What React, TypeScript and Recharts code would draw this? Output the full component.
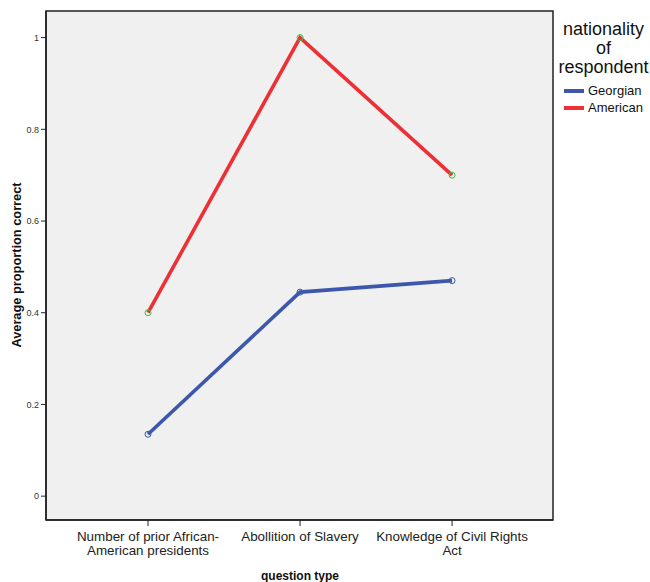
import { LineChart, Line, XAxis, YAxis, CartesianGrid, ReferenceArea } from "recharts";

// ── Data ──
const questionTypes = [
  ["Number of prior African-", "American presidents"],
  ["Abollition of Slavery"],
  ["Knowledge of Civil Rights", "Act"],
];
const questionIndex = [1, 2, 3];
const georgian = [0.135, 0.445, 0.47];
const american = [0.4, 1.0, 0.7];
const yTicks = [0, 0.2, 0.4, 0.6, 0.8, 1];
const seriesNames = ["Georgian", "American"];

const data = questionIndex.map((q, i) => ({
  q,
  Georgian: georgian[i],
  American: american[i],
}));

const FONT = "'Liberation Sans', Arial, sans-serif";
const BLUE = "#3d57ac";
const RED = "#ec3035";
const GREEN = "#3fbf47";
const SERIES_COLORS: Record<string, string> = { Georgian: BLUE, American: RED };

const X_DOMAIN: [number, number] = [0.329, 3.664];
const Y_DOMAIN: [number, number] = [-0.052, 1.058];

function XTick({ x, y, payload }: any) {
  const lines = questionTypes[payload.value - 1] ?? [];
  return (
    <text x={x} y={y} textAnchor="middle" fontFamily={FONT} fontSize={13.4} fill="#222">
      {lines.map((l, i) => (
        <tspan key={i} x={x} dy={i === 0 ? 13 : 14}>
          {l}
        </tspan>
      ))}
    </text>
  );
}

// legend drawn beside the plot, SPSS style
function SideLegend() {
  return (
    <div style={{ position: "absolute", left: 553, top: 20, width: 97, fontFamily: FONT, color: "#111" }}>
      <div style={{ textAlign: "center", fontSize: 18, lineHeight: "19px", paddingLeft: 4 }}>
        nationality
        <br />
        of
        <br />
        respondent
      </div>
      <div style={{ marginTop: 5, marginLeft: 11 }}>
        {seriesNames.map((name) => (
          <div key={name} style={{ display: "flex", alignItems: "center", height: 17, fontSize: 13 }}>
            <span
              style={{ display: "inline-block", width: 20, height: 4, background: SERIES_COLORS[name], marginRight: 4 }}
            />
            {name}
          </div>
        ))}
      </div>
    </div>
  );
}

export default function App() {
  return (
    <div style={{ position: "absolute", left: 0, top: 0, width: 650, height: 582, background: "#fff" }}>
      <LineChart width={650} height={582} data={data} margin={{ top: 11, right: 97, bottom: 0, left: 0 }}>
        <CartesianGrid horizontal={false} vertical={false} fill="#f0f0f0" />
        <XAxis
          dataKey="q"
          type="number"
          domain={X_DOMAIN}
          ticks={questionIndex}
          tick={<XTick />}
          tickSize={6}
          height={62}
          stroke="#222"
          axisLine={{ stroke: "#222", strokeWidth: 1.5 }}
          interval={0}
          allowDataOverflow
          label={{
            content: () => (
              <text x={300} y={580} textAnchor="middle" fontFamily={FONT} fontWeight="bold" fontSize={12} fill="#111">
                question type
              </text>
            ),
          }}
        />
        <YAxis
          type="number"
          domain={Y_DOMAIN}
          ticks={yTicks}
          width={46}
          tickSize={5}
          allowDataOverflow
          stroke="#222"
          axisLine={{ stroke: "#222", strokeWidth: 1.5 }}
          tick={{ fontSize: 9, fill: "#333", fontFamily: FONT }}
          label={{
            content: () => (
              <text
                x={21}
                y={265}
                transform="rotate(-90 21 265)"
                textAnchor="middle"
                fontFamily={FONT}
                fontWeight="bold"
                fontSize={12.8}
                fill="#111"
              >
                Average proportion correct
              </text>
            ),
          }}
        />
        <ReferenceArea
          x1={X_DOMAIN[0]}
          x2={X_DOMAIN[1]}
          y1={Y_DOMAIN[0]}
          y2={Y_DOMAIN[1]}
          fill="none"
          stroke="#222"
          strokeWidth={1.5}
          ifOverflow="visible"
        />
        <Line
          dataKey="Georgian"
          stroke={BLUE}
          strokeWidth={3.6}
          dot={{ r: 3, stroke: BLUE, strokeWidth: 1, fill: "none" }}
          activeDot={false}
          isAnimationActive={false}
        />
        <Line
          dataKey="American"
          stroke={RED}
          strokeWidth={3.6}
          dot={{ r: 3, stroke: GREEN, strokeWidth: 1, fill: "none" }}
          activeDot={false}
          isAnimationActive={false}
        />
      </LineChart>
      <SideLegend />
    </div>
  );
}
